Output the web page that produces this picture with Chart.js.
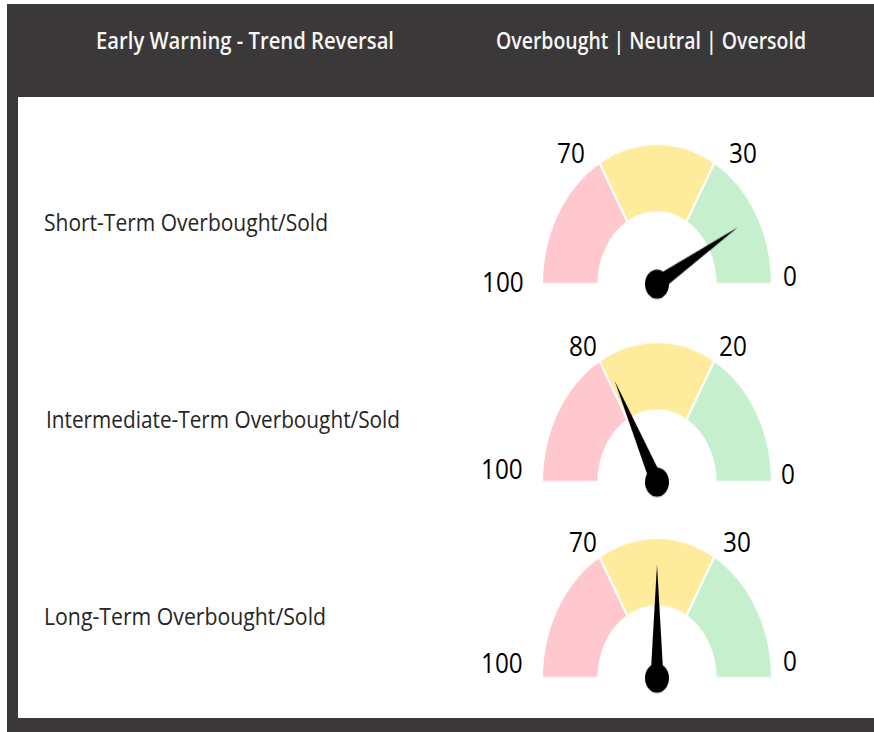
<!DOCTYPE html>
<html><head><meta charset="utf-8">
<script src="https://cdn.jsdelivr.net/npm/chart.js@4.4.1/dist/chart.umd.min.js"></script>
<style>
html,body{margin:0;padding:0;background:#fff;width:874px;height:732px;overflow:hidden;position:relative;font-family:"Open Sans",sans-serif;}
#frame{position:absolute;left:7px;top:4px;width:867px;height:728px;background:#3a3838;}
#panel{position:absolute;left:18px;top:97px;width:856px;height:621px;background:#fff;}
.t{position:absolute;white-space:nowrap;line-height:1;}
.hdr{color:#f6f6f6;font-weight:600;}
.lbl{color:#262626;font-weight:500;}
.num{color:#000;}
.g{position:absolute;}
.g canvas{transform-origin:0 0;display:block;}
</style></head><body>
<div id="frame"></div><div id="panel"></div>
<div id="texts"></div>
<div id="gauges"></div>
<script>
// ---- data ----
const titles = ["Early Warning - Trend Reversal", "Overbought | Neutral | Oversold"];
const rowLabels = ["Short-Term Overbought/Sold", "Intermediate-Term Overbought/Sold", "Long-Term Overbought/Sold"];
const bandNames = ["Overbought", "Neutral", "Oversold"];
const bandWeights = [1, 1, 1];            // bands are drawn as equal thirds
const bandColors = ["#FFC7CE", "#FFEB9C", "#C6EFCE"];
const thresholdsShort = [100, 70, 30, 0];
const thresholdsInter = [100, 80, 20, 0];
const thresholdsLong = [100, 70, 30, 0];
const needleValues = [15, 77, 50];

// ---- layout (positions only) ----
const S = 1.22;                 // vertical stretch of the original picture
const gaugeCX = 656.7;
const gaugeCY = [283.5, 481.5, 678];
const titleBoxes = [ {x:96, w:298, capTop:33.3}, {x:496, w:310, capTop:33.3} ];
const labelBoxes = [ {x:44, w:284, cy:223.3}, {x:46, w:354, cy:420}, {x:44, w:282, cy:617} ];
// tick label centres [100, low, high, 0] for each gauge
const tickPos = [
  [[502.5,281.7],[570.7,153.2],[743.3,153.2],[790,276]],
  [[502,469],[582.5,346.3],[732.5,346.3],[788,474]],
  [[502,663],[583.3,541.7],[737,541.7],[790,661]]
];
const thresholds = [thresholdsShort, thresholdsInter, thresholdsLong];

const texts = document.getElementById('texts');
function addText(str, cls, capH, opts){
  const el = document.createElement('div');
  el.className = 't ' + cls;
  el.textContent = str;
  const fs = capH / 0.714;
  el.style.fontSize = fs + 'px';
  texts.appendChild(el);
  const natural = el.getBoundingClientRect().width;
  const sx = opts.w / natural;
  if (opts.center) {
    el.style.left = (opts.cx - opts.w/2) + 'px';
    el.style.top = (opts.cy - capH/2 - 0.174*fs) + 'px';
  } else {
    el.style.left = opts.x + 'px';
    el.style.top = ((opts.capTop !== undefined ? opts.capTop : opts.cy - capH/2) - 0.174*fs) + 'px';
  }
  el.style.transformOrigin = '0 0';
  el.style.transform = 'scaleX(' + sx + ')';
}
titles.forEach((t,i)=> addText(t, 'hdr', 16.7, titleBoxes[i]));
rowLabels.forEach((t,i)=> addText(t, 'lbl', 16.7, labelBoxes[i]));
thresholds.forEach((th, gi) => {
  th.forEach((v, k) => {
    const s = String(v);
    addText(s, 'num', 20, {center:true, cx:tickPos[gi][k][0], cy:tickPos[gi][k][1], w:s.length*13.9});
  });
});

function valueToFraction(v, th){
  const total = bandWeights.reduce((a,b)=>a+b,0);
  let cum = 0;
  for (let i=0;i<th.length-1;i++){
    const hi = th[i], lo = th[i+1];
    if (v <= hi && v >= lo){
      return (cum + (hi - v)/(hi - lo)*bandWeights[i]) / total;
    }
    cum += bandWeights[i];
  }
  return v > th[0] ? 0 : 1;
}

const needlePlugin = {
  id: 'needle',
  afterDatasetsDraw(chart, args, opts){
    const arc = chart.getDatasetMeta(0).data[0];
    const x = arc.x, y = arc.y, R = arc.outerRadius;
    const f = valueToFraction(opts.value, opts.thresholds);
    const ang = -Math.PI + f*Math.PI;
    const L = R*0.81;
    const ctx = chart.ctx;
    ctx.save();
    ctx.fillStyle = '#000';
    const tx = x + L*Math.cos(ang), ty = y + L*Math.sin(ang);
    const px = -Math.sin(ang), py = Math.cos(ang);
    const w = 6.5;
    ctx.beginPath();
    ctx.moveTo(x + px*w, y + py*w);
    ctx.lineTo(tx, ty);
    ctx.lineTo(x - px*w, y - py*w);
    ctx.closePath();
    ctx.fill();
    ctx.beginPath();
    ctx.arc(x, y, 12, 0, Math.PI*2);
    ctx.fill();
    ctx.restore();
  }
};

const gauges = document.getElementById('gauges');
const CW = 240, CH = 130, PADT = 2, PADB = 14;
needleValues.forEach((val, gi) => {
  const wrap = document.createElement('div');
  wrap.className = 'g';
  wrap.style.left = (gaugeCX - CW/2) + 'px';
  wrap.style.top = (gaugeCY[gi] - (CH - PADB)*S) + 'px';
  const cv = document.createElement('canvas');
  cv.width = CW; cv.height = CH;
  cv.style.width = CW + 'px'; cv.style.height = CH + 'px';
  cv.style.transform = 'scaleY(' + S + ')';
  wrap.appendChild(cv);
  gauges.appendChild(wrap);
  new Chart(cv, {
    type: 'doughnut',
    data: {
      labels: bandNames,
      datasets: [{
        data: bandWeights,
        backgroundColor: bandColors,
        borderColor: '#ffffff',
        borderWidth: 2,
        hoverOffset: 0
      }]
    },
    options: {
      responsive: false,
      animation: false,
      rotation: -90,
      circumference: 180,
      radius: 115,
      cutout: '51%',
      layout: { padding: { left: 5, right: 5, top: PADT, bottom: PADB } },
      plugins: {
        legend: { display: false },
        tooltip: { enabled: false },
        needle: { value: val, thresholds: thresholds[gi] }
      },
      events: []
    },
    plugins: [needlePlugin]
  });
});
</script>
</body></html>
